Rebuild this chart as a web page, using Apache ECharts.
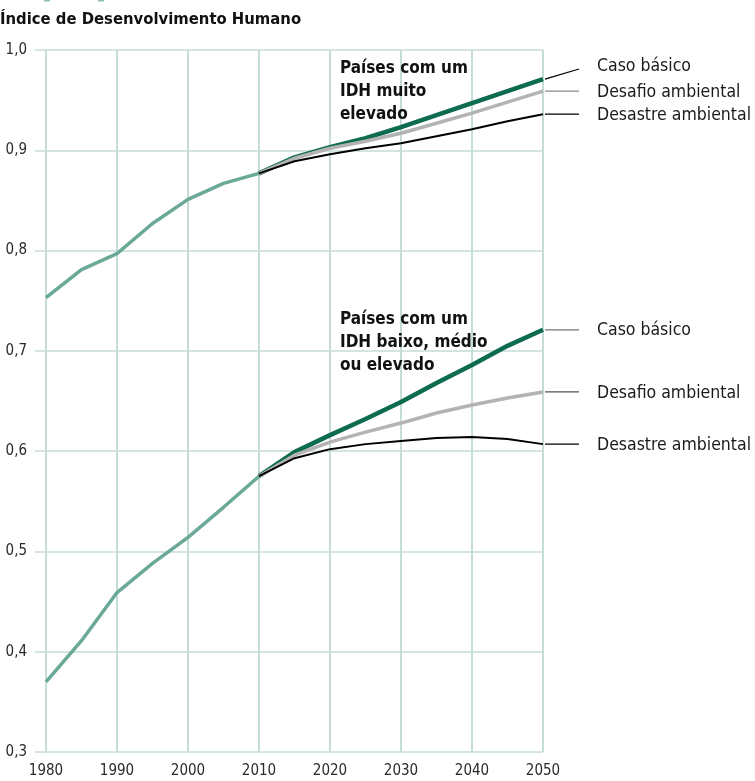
<!DOCTYPE html>
<html><head><meta charset="utf-8">
<script src="https://cdn.jsdelivr.net/npm/echarts@6/dist/echarts.min.js"></script>
<style>html,body{margin:0;padding:0;background:#fff}#c{width:755px;height:781px}</style>
</head><body><div id="c"></div>
<script>
const FONT = '"DejaVu Sans Condensed","Liberation Sans Narrow",Arial,sans-serif';
const histYears = [1980,1985,1990,1995,2000,2005,2010];
const projYears = [2010,2015,2020,2025,2030,2035,2040,2045,2050];
const xTicks = [1980,1990,2000,2010,2020,2030,2040,2050];
const yTicks = ['0,3','0,4','0,5','0,6','0,7','0,8','0,9','1,0'];

const histVeryHigh = [0.753,0.781,0.797,0.827,0.851,0.867,0.877];
const histOther    = [0.370,0.411,0.459,0.488,0.514,0.544,0.575];

const vhBase     = [0.877,0.893,0.903,0.912,0.923,0.935,0.947,0.959,0.971];
const vhChallenge= [0.877,0.892,0.902,0.909,0.917,0.927,0.937,0.948,0.959];
const vhDisaster = [0.877,0.889,0.896,0.902,0.907,0.914,0.921,0.929,0.936];

const oBase      = [0.575,0.599,0.616,0.632,0.649,0.668,0.686,0.705,0.721];
const oChallenge = [0.575,0.596,0.609,0.619,0.628,0.638,0.646,0.653,0.659];
const oDisaster  = [0.575,0.593,0.602,0.607,0.610,0.613,0.614,0.612,0.607];

const scenarioNames = ['Caso básico','Desafio ambiental','Desastre ambiental'];
const groupLabels = ['Países com um\nIDH muito\nelevado','Países com um\nIDH baixo, médio\nou elevado'];
const title = 'Índice de Desenvolvimento Humano';

const COL_HIST = '#6aa898', COL_BASE = '#0d6b4f', COL_CH = '#b3b3b3', COL_DIS = '#000000';
const GRID = '#c6ddd6';

const pair = (xs, ys) => xs.map((x,i)=>[x, ys[i]]);
const line = (name, data, color, width, z) => ({
  type:'line', name, data, symbol:'none', smooth:false, z,
  lineStyle:{color, width}, silent:true, animation:false
});

const chart = echarts.init(document.getElementById('c'), null, {renderer:'canvas'});
chart.setOption({
  animation:false,
  grid:{left:46,right:212,top:50,bottom:29},
  xAxis:{type:'value',min:1980,max:2050,interval:10,
    axisLine:{show:false},axisTick:{show:false},
    axisLabel:{color:'#2a2a2a',fontFamily:FONT,fontSize:15,margin:12,
      formatter:v=>xTicks.includes(v)?String(v):''},
    splitLine:{show:true,lineStyle:{color:GRID,width:2}}},
  yAxis:{type:'value',min:0.3,max:1.0,interval:0.1,
    axisLine:{show:true,lineStyle:{color:GRID,width:2}},
    axisTick:{show:true,length:11,lineStyle:{color:GRID,width:1.5}},
    axisLabel:{color:'#2a2a2a',fontFamily:FONT,fontSize:15,margin:19,
      formatter:v=>yTicks[Math.round((v-0.3)*10)]},
    splitLine:{show:true,lineStyle:{color:GRID,width:1.5}}},
  series:[
    line('hist1', pair(histYears,histVeryHigh), COL_HIST, 3.5, 2),
    line('hist2', pair(histYears,histOther), COL_HIST, 3.5, 2),
    line(scenarioNames[0], pair(projYears,vhBase), COL_BASE, 4.5, 3),
    line(scenarioNames[1], pair(projYears,vhChallenge), COL_CH, 3.5, 4),
    line(scenarioNames[2], pair(projYears,vhDisaster), COL_DIS, 2, 5),
    line(scenarioNames[0]+'2', pair(projYears,oBase), COL_BASE, 4.5, 3),
    line(scenarioNames[1]+'2', pair(projYears,oChallenge), COL_CH, 3.5, 4),
    line(scenarioNames[2]+'2', pair(projYears,oDisaster), COL_DIS, 2, 5)
  ]
});

const last = arr => chart.convertToPixel({gridIndex:0},[projYears[projYears.length-1], arr[arr.length-1]]);
const g = [];
g.push({type:'text',left:0,top:11,style:{text:title,font:'bold 16.5px '+FONT,fill:'#111'}});
g.push({type:'rect',shape:{x:44,y:0,width:6,height:1.5},style:{fill:'#8cc0b0'}});
g.push({type:'rect',shape:{x:98,y:0,width:6,height:1.5},style:{fill:'#8cc0b0'}});

function labels(series, labelYs, leaderCols, slantFirst){
  series.forEach((s,i)=>{
    const p = last(s);
    const ly = labelYs[i];
    const y2 = (i===0 && slantFirst) ? ly+4 : p[1];
    g.push({type:'line',shape:{x1:p[0]+2,y1:p[1],x2:p[0]+36,y2:y2},style:{stroke:leaderCols[i],lineWidth:1.2},z:10});
    g.push({type:'text',x:p[0]+54,y:((i===0&&slantFirst)?ly:p[1])+1,style:{text:scenarioNames[i],font:'17.5px '+FONT,fill:'#1a1a1a',verticalAlign:'middle'},z:10});
  });
}
labels([vhBase,vhChallenge,vhDisaster],[65,0,0],['#000','#888','#000'],true);
labels([oBase,oChallenge,oDisaster],[0,0,0],['#777','#555','#000'],false);

const a1 = chart.convertToPixel({gridIndex:0},[2021.4,0.993]);
const a2 = chart.convertToPixel({gridIndex:0},[2021.4,0.743]);
[[a1,groupLabels[0]],[a2,groupLabels[1]]].forEach(([p,t])=>{
  g.push({type:'text',x:p[0],y:p[1],style:{text:t,font:'bold 17px '+FONT,fill:'#111',lineHeight:23},z:10});
});
chart.setOption({graphic:g});
</script></body></html>
